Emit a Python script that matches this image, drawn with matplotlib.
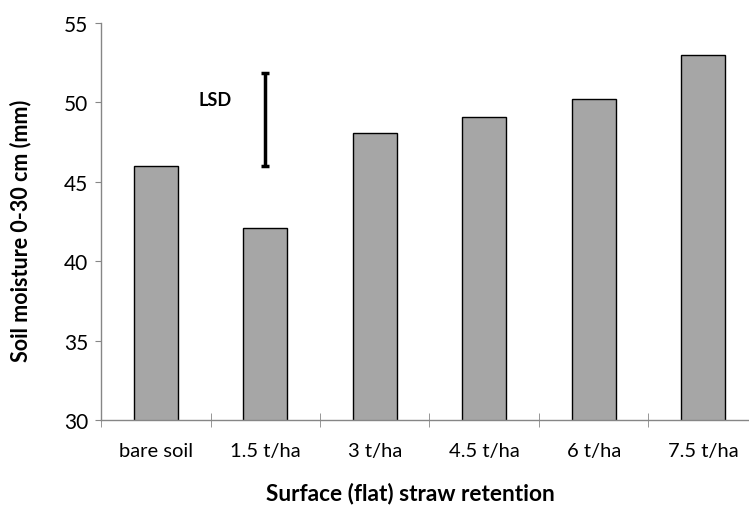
import matplotlib
matplotlib.use('Agg')
import matplotlib.pyplot as plt

plt.rcParams['font.family'] = ['Lato', 'DejaVu Sans']

# straw retention treatments and measured soil moisture (mm)
categories = ['bare soil', '1.5 t/ha', '3 t/ha', '4.5 t/ha', '6 t/ha', '7.5 t/ha']
moisture = [46.0, 42.1, 48.1, 49.05, 50.2, 53.0]

# LSD bar drawn next to the 1.5 t/ha bar
lsd_x = 1
lsd_center = 48.91
lsd_half = 2.94

y_ticks = [30, 35, 40, 45, 50, 55]

fig = plt.figure(figsize=(7.49, 5.06), dpi=100)
ax = fig.add_axes([101/749, 85/506, 657/749, 397/506])

x = range(len(categories))
ax.bar(x, moisture, width=0.4, color='#a6a6a6', edgecolor='black', linewidth=1.0, zorder=2)

ax.errorbar(lsd_x, lsd_center, yerr=lsd_half, fmt='none', ecolor='black',
            elinewidth=2.5, capsize=3, capthick=2.5, zorder=3)
ax.text(0.54, 50.2, 'LSD', fontsize=13, fontweight='bold', ha='center', va='center')

ax.set_xlim(-0.5, len(categories) - 0.5)
ax.set_ylim(30, 55)
ax.set_yticks(y_ticks)
ax.set_xticks(list(x))
ax.set_xticklabels(categories, fontsize=14.5)
ax.set_xticks([i - 0.5 for i in range(len(categories) + 1)], minor=True)

for side in ['top', 'right']:
    ax.spines[side].set_visible(False)
for side in ['left', 'bottom']:
    ax.spines[side].set_color('#868686')
    ax.spines[side].set_linewidth(1.0)

ax.tick_params(axis='y', labelsize=15, length=4, color='#868686', pad=5)
ax.tick_params(axis='x', which='major', length=0, pad=16)
ax.tick_params(axis='x', which='minor', direction='inout', length=10, color='#868686')

fig.text(21/749, 1 - 231/506, 'Soil moisture 0-30 cm (mm)', rotation=90,
         fontsize=15.5, fontweight='bold', ha='center', va='center')
fig.text(410/749, 1 - 494/506, 'Surface (flat) straw retention',
         fontsize=16.3, fontweight='bold', ha='center', va='center')

fig.savefig('out.png', dpi=100)
